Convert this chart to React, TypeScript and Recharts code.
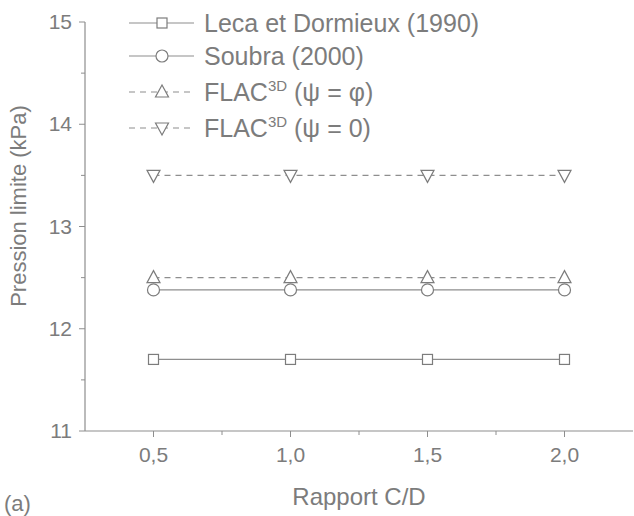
import { Line, LineChart, XAxis, YAxis } from 'recharts';

const ratios = [0.5, 1.0, 1.5, 2.0];
const lecaDormieux = [11.7, 11.7, 11.7, 11.7];
const soubra = [12.38, 12.38, 12.38, 12.38];
const flacPsiPhi = [12.5, 12.5, 12.5, 12.5];
const flacPsiZero = [13.5, 13.5, 13.5, 13.5];

const xTicks = [0.5, 0.75, 1.0, 1.25, 1.5, 1.75, 2.0];
const yTicks = [11, 11.5, 12, 12.5, 13, 13.5, 14, 14.5, 15];

const GRAY = '#7c7c7c';
const LINE = '#8e8e8e';
const FONT = '"Liberation Sans", Arial, sans-serif';

type Shape = 'square' | 'circle' | 'up' | 'down';

const series: { key: string; shape: Shape; dashed: boolean; label: string; sup?: string; tail?: string }[] = [
  { key: 'leca', shape: 'square', dashed: false, label: 'Leca et Dormieux (1990)' },
  { key: 'soubra', shape: 'circle', dashed: false, label: 'Soubra (2000)' },
  { key: 'flacPhi', shape: 'up', dashed: true, label: 'FLAC', sup: '3D', tail: ' (\u03c8 = \u03c6)' },
  { key: 'flacZero', shape: 'down', dashed: true, label: 'FLAC', sup: '3D', tail: ' (\u03c8 = 0)' },
];

const data = ratios.map((r, i) => ({
  ratio: r,
  leca: lecaDormieux[i],
  soubra: soubra[i],
  flacPhi: flacPsiPhi[i],
  flacZero: flacPsiZero[i],
}));

function Marker({ shape, cx, cy }: { shape: Shape; cx: number; cy: number }) {
  const common = { fill: '#fff', stroke: GRAY, strokeWidth: 1.2 };
  if (shape === 'square') return <rect x={cx - 5} y={cy - 5} width={10} height={10} {...common} />;
  if (shape === 'circle') return <circle cx={cx} cy={cy} r={6} {...common} />;
  if (shape === 'up')
    return <polygon points={`${cx},${cy - 7} ${cx - 6.5},${cy + 5} ${cx + 6.5},${cy + 5}`} {...common} />;
  return <polygon points={`${cx},${cy + 7} ${cx - 6.5},${cy - 5} ${cx + 6.5},${cy - 5}`} {...common} />;
}

function XTick({ x, y, payload }: any) {
  const major = Math.abs((payload.value * 2) % 1) < 1e-6;
  return (
    <g>
      <line x1={x} y1={y} x2={x} y2={y + (major ? 6 : 4)} stroke={LINE} strokeWidth={1} />
      {major && (
        <text x={x} y={y + 31} textAnchor="middle" fill={GRAY} fontSize={21} fontFamily={FONT}>
          {payload.value.toFixed(1).replace('.', ',')}
        </text>
      )}
    </g>
  );
}

function YTick({ x, y, payload }: any) {
  const major = Number.isInteger(payload.value);
  return (
    <g>
      <line x1={x} y1={y} x2={x - (major ? 6 : 4)} y2={y} stroke={LINE} strokeWidth={1} />
      {major && (
        <text x={x - 13} y={y + 7} textAnchor="end" fill={GRAY} fontSize={21} fontFamily={FONT}>
          {payload.value}
        </text>
      )}
    </g>
  );
}

function YLabel() {
  return (
    <text
      x={0}
      y={0}
      transform="translate(26, 206) rotate(-90)"
      textAnchor="middle"
      fill={GRAY}
      fontSize={22}
      fontFamily={FONT}
    >
      Pression limite (kPa)
    </text>
  );
}

function LegendBox() {
  const rows = [23, 56, 92, 128];
  return (
    <svg width={634} height={150} style={{ position: 'absolute', left: 0, top: 0, pointerEvents: 'none' }}>
      {series.map((s, i) => (
        <g key={s.key}>
          <line
            x1={129}
            x2={194}
            y1={rows[i]}
            y2={rows[i]}
            stroke={LINE}
            strokeWidth={1.2}
            strokeDasharray={s.dashed ? '6 5' : undefined}
          />
          <Marker shape={s.shape} cx={162} cy={rows[i]} />
          <text x={204} y={rows[i] + 9} fill={GRAY} fontSize={25} fontFamily={FONT}>
            {s.label}
            {s.sup && (
              <tspan dy={-10} fontSize={15}>
                {s.sup}
              </tspan>
            )}
            {s.tail && <tspan dy={10}>{s.tail}</tspan>}
          </text>
        </g>
      ))}
    </svg>
  );
}

export default function App() {
  return (
    <div style={{ position: 'absolute', left: 0, top: 0, width: 634, height: 516, background: '#fff' }}>
      <LineChart width={634} height={516} data={data} margin={{ top: 22, right: 1, left: 25, bottom: 25 }}>
        <XAxis
          dataKey="ratio"
          type="number"
          domain={[0.25, 2.25]}
          ticks={xTicks}
          allowDataOverflow
          height={60}
          tickSize={0}
          tickMargin={0}
          tick={<XTick />}
          axisLine={{ stroke: LINE, strokeWidth: 1.2 }}
          label={{ value: 'Rapport C/D', position: 'insideBottom', offset: -14, fill: GRAY, fontSize: 24, fontFamily: FONT }}
        />
        <YAxis
          type="number"
          domain={[11, 15]}
          ticks={yTicks}
          width={60}
          tickSize={0}
          tickMargin={0}
          tick={<YTick />}
          axisLine={{ stroke: LINE, strokeWidth: 1.2 }}
          label={{ content: () => <YLabel /> }}
        />
        {series.map((s) => (
          <Line
            key={s.key}
            dataKey={s.key}
            stroke={LINE}
            strokeWidth={1.2}
            strokeDasharray={s.dashed ? '6 5' : undefined}
            isAnimationActive={false}
            dot={(p: any) => <Marker key={`${s.key}-${p.index}`} shape={s.shape} cx={p.cx} cy={p.cy} />}
            activeDot={false}
          />
        ))}
      </LineChart>
      <LegendBox />
      <svg width={60} height={30} style={{ position: 'absolute', left: 0, top: 486 }}>
        <text x={4} y={25} fill={GRAY} fontSize={22} fontFamily={FONT}>
          (a)
        </text>
      </svg>
    </div>
  );
}
